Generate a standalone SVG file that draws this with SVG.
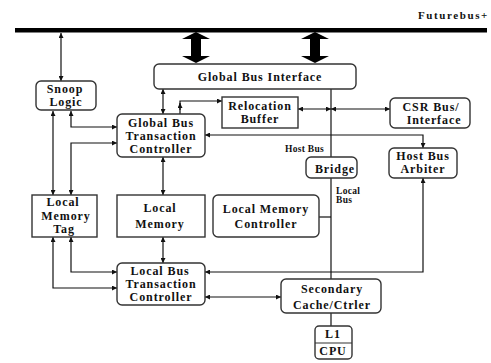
<svg xmlns="http://www.w3.org/2000/svg" width="491" height="363" viewBox="0 0 491 363">
<style>
.box{fill:#fff;stroke:#333;stroke-width:1.4}
.t{font-family:"Liberation Serif","Times New Roman",serif;font-weight:bold;font-size:12px;letter-spacing:0.9px;fill:#111;text-anchor:middle}
.s{font-family:"Liberation Serif","Times New Roman",serif;font-weight:bold;font-size:9.5px;letter-spacing:0.3px;fill:#111}
.c{fill:none;stroke:#111;stroke-width:1.2}
.a{marker-end:url(#ah)}
.b{marker-start:url(#ah);marker-end:url(#ah)}
</style>
<defs>
<marker id="ah" viewBox="0 0 10 10" refX="10" refY="5" markerWidth="6" markerHeight="5" markerUnits="userSpaceOnUse" orient="auto-start-reverse">
<path d="M0,0 L10,5 L0,10 z" fill="#111"/>
</marker>
</defs>
<rect width="491" height="363" fill="#fff"/>
<g id="bus">
<rect x="15" y="28" width="472" height="4.5" fill="#000"/>
<text class="s" x="418" y="19" style="font-size:11px;letter-spacing:1.6px">Futurebus+</text>
</g>
<g id="connectors">
<path d="M196,32 L210,39 L201,39 L201,56 L210,56 L196,63 L182,56 L191,56 L191,39 L182,39 Z" fill="#000"/>
<path d="M315,32 L329,39 L320,39 L320,56 L329,56 L315,63 L301,56 L310,56 L310,39 L301,39 Z" fill="#000"/>
<path class="c b" d="M61,33 L61,81"/>
<path class="c b" d="M163,89 L163,114"/>
<path class="c a" d="M180,114 L180,101 L222,101"/>
<path class="c a" d="M180,110 L180,103"/>
<path class="c b" d="M298,109 L331,109"/>
<path class="c b" d="M331,109 L390,109"/>
<path class="c" d="M331,89 L331,279"/>
<path class="c" d="M319,217 L331,217"/>
<path class="c b" d="M71,111 L71,127 L117,127"/>
<path class="c b" d="M53,111 L53,195"/>
<path class="c b" d="M117,143 L71,143 L71,195"/>
<path class="c b" d="M205,135 L423,135 L423,148"/>
<path class="c b" d="M163,157 L163,195"/>
<path class="c b" d="M53,237 L53,288 L117,288"/>
<path class="c b" d="M71,237 L71,272 L117,272"/>
<path class="c b" d="M163,237 L163,263"/>
<path class="c b" d="M423,178 L423,272 L205,272"/>
<path class="c b" d="M205,297 L281,297"/>
<path class="c" d="M331,313 L331,326"/>
</g>
<g id="snoop"><rect class="box" x="36" y="81" width="60" height="29" rx="5"/><text class="t" x="65" y="93">Snoop</text><text class="t" x="66" y="106">Logic</text></g>
<g id="gbi"><rect class="box" x="154" y="64" width="202" height="25" rx="5"/><text class="t" x="260" y="81">Global Bus Interface</text></g>
<g id="reloc"><rect class="box" x="222" y="97" width="76" height="31"/><text class="t" x="260" y="109.5">Relocation</text><text class="t" x="260" y="122.5">Buffer</text></g>
<g id="csr"><rect class="box" x="390" y="98" width="80" height="30" rx="5"/><text class="t" x="431" y="110.5">CSR Bus/</text><text class="t" x="434" y="123.5">Interface</text></g>
<g id="gbtc"><rect class="box" x="117" y="114" width="88" height="43" rx="5"/><text class="t" x="161" y="127">Global Bus</text><text class="t" x="161" y="140">Transaction</text><text class="t" x="161" y="153">Controller</text></g>
<g id="bridge"><rect class="box" x="306" y="157" width="51" height="21" rx="5"/><text class="t" x="335" y="173">Bridge</text></g>
<g id="hostbus-label"><text class="s" x="285" y="152">Host Bus</text></g>
<g id="localbus-label"><text class="s" x="336" y="194">Local</text><text class="s" x="336" y="203">Bus</text></g>
<g id="hba"><rect class="box" x="389" y="148" width="68" height="30" rx="5"/><text class="t" x="423" y="160">Host Bus</text><text class="t" x="423" y="173">Arbiter</text></g>
<g id="lmt"><rect class="box" x="32" y="195" width="65" height="42"/><text class="t" x="63" y="206">Local</text><text class="t" x="66" y="220">Memory</text><text class="t" x="64" y="233">Tag</text></g>
<g id="lm"><rect class="box" x="117" y="195" width="88" height="42"/><text class="t" x="160" y="212">Local</text><text class="t" x="160" y="228">Memory</text></g>
<g id="lmc"><rect class="box" x="213" y="195" width="106" height="42" rx="5"/><text class="t" x="266" y="213">Local Memory</text><text class="t" x="266" y="228">Controller</text></g>
<g id="lbtc"><rect class="box" x="117" y="263" width="88" height="42" rx="5"/><text class="t" x="160" y="275">Local Bus</text><text class="t" x="161" y="288">Transaction</text><text class="t" x="161" y="301">Controller</text></g>
<g id="secondary"><rect class="box" x="281" y="279" width="100" height="34" rx="5"/><text class="t" x="332" y="293">Secondary</text><text class="t" x="332" y="309">Cache/Ctrler</text></g>
<g id="cpu"><rect class="box" x="315" y="326" width="37" height="33" rx="4"/><line x1="315" y1="343" x2="352" y2="343" stroke="#333" stroke-width="1.2"/><text class="t" x="333" y="338">L1</text><text class="t" x="333" y="355">CPU</text></g>
</svg>
